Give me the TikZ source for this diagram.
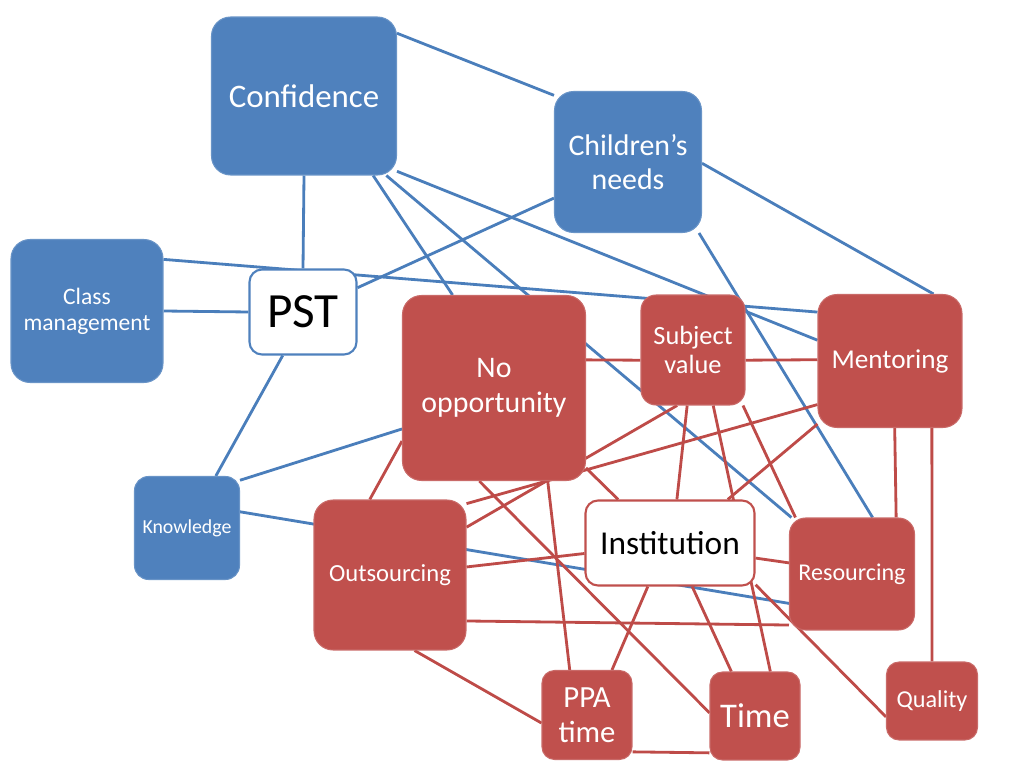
\documentclass[tikz,border=0pt]{standalone}
\usepackage{fontspec}
\setmainfont{Carlito}
\usetikzlibrary{positioning,backgrounds}
\definecolor{nodeblue}{RGB}{79,129,189}
\definecolor{nodered}{RGB}{192,80,77}
\definecolor{lineblue}{RGB}{74,126,187}
\definecolor{linered}{RGB}{190,75,72}
\tikzstyle{bluebox}=[rectangle,rounded corners=0.38cm,fill=nodeblue,draw=nodeblue!85!white,line width=0.6pt,text=white,align=center]
\tikzstyle{redbox}=[rectangle,rounded corners=0.38cm,fill=nodered,draw=nodered!85!white,line width=0.6pt,text=white,align=center]
\tikzstyle{whitebox}=[rectangle,rounded corners=0.25cm,fill=white,line width=1.2pt,text=black,align=center]
\tikzstyle{blueline}=[draw=lineblue,line width=1.6pt]
\tikzstyle{redline}=[draw=linered,line width=1.6pt]

\begin{document}
\begin{tikzpicture}[x=0.02cm,y=-0.02cm]

      \useasboundingbox (0,0) rectangle (1011,783);

      \node[bluebox, minimum width=3.7cm, minimum height=3.16cm, font=\fontsize{18.7}{22}\selectfont] (confidence) at (304,96) {Confidence};
      \node[bluebox, minimum width=2.94cm, minimum height=2.82cm, font=\fontsize{17}{19}\selectfont] (childrens_needs) at (628,162) {Children’s\\needs};
      \node[bluebox, minimum width=3.04cm, minimum height=2.86cm, font=\fontsize{13.4}{14.7}\selectfont] (class_management) at (87,311) {Class\\management};
      \node[whitebox, draw=nodeblue, minimum width=2.14cm, minimum height=1.7cm, font=\fontsize{28}{30}\selectfont] (pst) at (303,312) {PST};
      \node[bluebox, rounded corners=0.28cm, minimum width=2.1cm, minimum height=2.06cm, font=\fontsize{11.3}{13}\selectfont] (knowledge) at (187,528) {Knowledge};

      \node[redbox, minimum width=3.66cm, minimum height=3.7cm, font=\fontsize{17}{20}\selectfont] (no_opportunity) at (494,388) {No\\opportunity};
      \node[redbox, rounded corners=0.3cm, minimum width=2.08cm, minimum height=2.2cm, font=\fontsize{15}{17}\selectfont] (subject_value) at (693,350) {Subject\\value};
      \node[redbox, minimum width=2.88cm, minimum height=2.66cm, font=\fontsize{15.5}{17}\selectfont] (mentoring) at (890,361) {Mentoring};
      \node[redbox, minimum width=3.04cm, minimum height=3.0cm, font=\fontsize{14}{16}\selectfont] (outsourcing) at (390,575) {Outsourcing};
      \node[whitebox, draw=nodered, minimum width=3.38cm, minimum height=1.7cm, font=\fontsize{19}{21}\selectfont] (institution) at (670,543) {Institution};
      \node[redbox, rounded corners=0.32cm, minimum width=2.5cm, minimum height=2.24cm, font=\fontsize{13.7}{15}\selectfont] (resourcing) at (852,574) {Resourcing};
      \node[redbox, rounded corners=0.25cm, minimum width=1.8cm, minimum height=1.78cm, font=\fontsize{17.5}{20}\selectfont] (ppa_time) at (587,715) {PPA\\time};
      \node[redbox, rounded corners=0.25cm, minimum width=1.8cm, minimum height=1.76cm, font=\fontsize{19.7}{22}\selectfont] (time) at (755,716) {Time};
      \node[redbox, rounded corners=0.25cm, minimum width=1.82cm, minimum height=1.56cm, font=\fontsize{13.8}{15}\selectfont] (quality) at (932,701) {Quality};

      \begin{scope}[on background layer]
      \draw[blueline] (confidence.34) -- (childrens_needs.138);
      \draw[blueline] (confidence.south) -- (pst.north);
      \draw[blueline] (confidence.-49) -- (no_opportunity.114);
      \draw[blueline] (confidence.-44) -- (resourcing.137);
      \draw[blueline] (confidence.-39) -- (mentoring.164);
      \draw[blueline] (class_management.east) -- (pst.west);
      \draw[blueline] (class_management.34) -- (mentoring.146);
      \draw[blueline] (pst.24) -- (childrens_needs.206);
      \draw[blueline] (pst.245) -- (knowledge.61);
      \draw[blueline] (knowledge.42) -- (no_opportunity.204);
      \draw[blueline] (knowledge.17) -- (resourcing.205);
      \draw[blueline] (childrens_needs.-1) -- (mentoring.57);
      \draw[blueline] (childrens_needs.-45) -- (resourcing.70);

      \draw[redline] (no_opportunity.17) -- (subject_value.191);
      \draw[redline] (subject_value.-11) -- (mentoring.179);
      \draw[redline] (mentoring.-86) -- (resourcing.52);
      \draw[redline] (mentoring.-58) -- (quality.90);
      \draw[redline] (mentoring.211) -- (outsourcing.43);
      \draw[redline] (mentoring.221) -- (institution.37);
      \draw[redline] (subject_value.254) -- (outsourcing.32);
      \draw[redline] (subject_value.264) -- (institution.81);
      \draw[redline] (subject_value.-70) -- (time.71);
      \draw[redline] (subject_value.-48) -- (resourcing.135);
      \draw[redline] (no_opportunity.210) -- (outsourcing.105);
      \draw[redline] (no_opportunity.-41) -- (institution.140);
      \draw[redline] (no_opportunity.261) -- (time.176);
      \draw[redline] (no_opportunity.-60) -- (ppa_time.111);
      \draw[redline] (outsourcing.6) -- (institution.187);
      \draw[redline] (outsourcing.-31) -- (resourcing.219);
      \draw[redline] (outsourcing.-72) -- (ppa_time.190);
      \draw[redline] (ppa_time.-39) -- (time.219);
      \draw[redline] (institution.243) -- (ppa_time.61);
      \draw[redline] (institution.-63) -- (time.118);
      \draw[redline] (institution.-10) -- (resourcing.170);
      \draw[redline] (institution.-26) -- (quality.199);
      \end{scope}
    \end{tikzpicture}
\end{document}
